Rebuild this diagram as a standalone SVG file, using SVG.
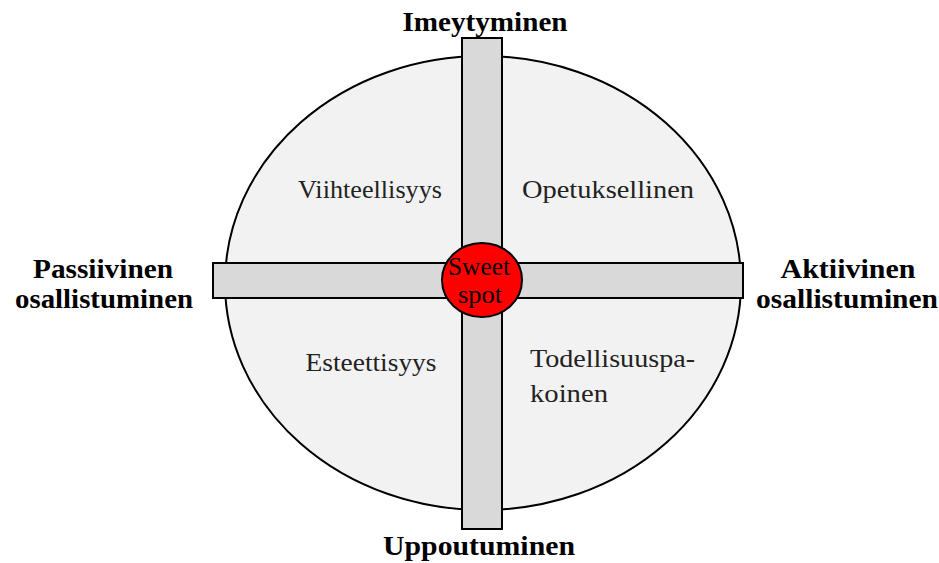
<svg xmlns="http://www.w3.org/2000/svg" width="939" height="563" viewBox="0 0 939 563">
<style>
.axis{font-family:"Liberation Serif","DejaVu Serif",serif;font-weight:bold;font-size:27px;fill:#000;text-anchor:middle}
.q{font-family:"Liberation Serif","DejaVu Serif",serif;font-size:25px;fill:#222}
.s{font-family:"Liberation Serif","DejaVu Serif",serif;font-size:25px;fill:#000;text-anchor:middle}
.bar{fill:#d9d9d9;stroke:#000;stroke-width:2}
</style>
<rect width="939" height="563" fill="#fff"/>
<g id="circle"><ellipse cx="483" cy="283" rx="258" ry="227" fill="#f2f2f2" stroke="#000" stroke-width="2"/></g>
<g id="vbar"><rect class="bar" x="462" y="38" width="40" height="491"/></g>
<g id="hbar"><rect class="bar" x="213" y="263" width="530" height="35"/></g>
<g id="sweet"><ellipse cx="482" cy="280" rx="40" ry="37" fill="#ff0000" stroke="#000" stroke-width="2"/>
<text class="s" x="479" y="275" textLength="62" lengthAdjust="spacingAndGlyphs">Sweet</text>
<text class="s" x="480" y="303" textLength="44" lengthAdjust="spacingAndGlyphs">spot</text></g>
<g id="top"><text class="axis" x="485" y="31" textLength="165" lengthAdjust="spacingAndGlyphs">Imeytyminen</text></g>
<g id="bottom"><text class="axis" x="479" y="555" textLength="192" lengthAdjust="spacingAndGlyphs">Uppoutuminen</text></g>
<g id="left"><text class="axis" x="103" y="278" textLength="140" lengthAdjust="spacingAndGlyphs">Passiivinen</text><text class="axis" x="104" y="308" textLength="178" lengthAdjust="spacingAndGlyphs">osallistuminen</text></g>
<g id="right"><text class="axis" x="848" y="278" textLength="135" lengthAdjust="spacingAndGlyphs">Aktiivinen</text><text class="axis" x="847" y="308" textLength="182" lengthAdjust="spacingAndGlyphs">osallistuminen</text></g>
<g id="q1"><text class="q" x="370" y="198" text-anchor="middle" textLength="144" lengthAdjust="spacingAndGlyphs">Viihteellisyys</text></g>
<g id="q2"><text class="q" x="608" y="198" text-anchor="middle" textLength="172" lengthAdjust="spacingAndGlyphs">Opetuksellinen</text></g>
<g id="q3"><text class="q" x="371" y="371" text-anchor="middle" textLength="131" lengthAdjust="spacingAndGlyphs">Esteettisyys</text></g>
<g id="q4"><text class="q" x="530" y="367" textLength="165" lengthAdjust="spacingAndGlyphs">Todellisuuspa-</text><text class="q" x="530" y="402" textLength="78" lengthAdjust="spacingAndGlyphs">koinen</text></g>
</svg>
